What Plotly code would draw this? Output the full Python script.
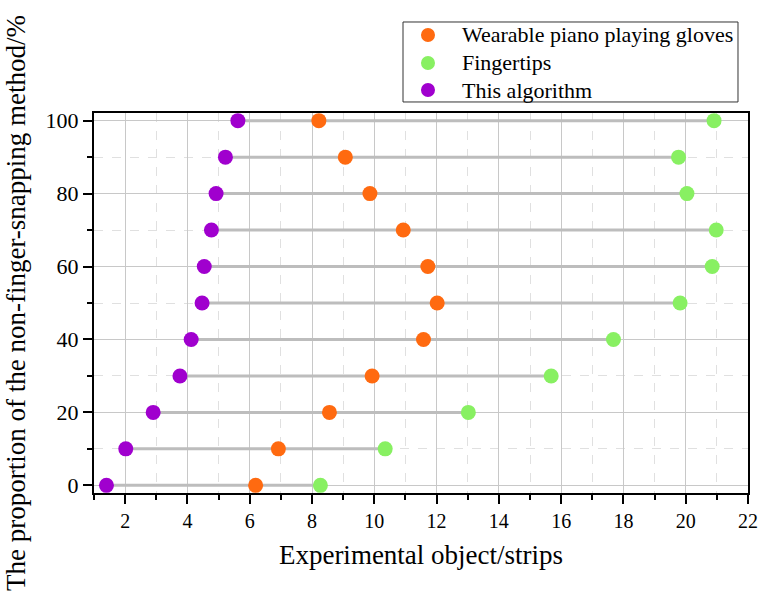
import plotly.graph_objects as go

# Proportion of non-finger-snapping method (%) per row
proportion = [0, 10, 20, 30, 40, 50, 60, 70, 80, 90, 100]

# Experimental object/strips for each method
gloves = [6.19, 6.92, 8.56, 9.93, 11.58, 12.02, 11.72, 10.93, 9.86, 9.07, 8.22]
fingertips = [8.27, 10.35, 13.02, 15.68, 17.68, 19.82, 20.85, 20.98, 20.04, 19.77, 20.91]
algorithm = [1.40, 2.02, 2.90, 3.76, 4.12, 4.47, 4.54, 4.77, 4.92, 5.22, 5.62]

series_names = ["Wearable piano playing gloves", "Fingertips", "This algorithm"]

x_ticks = [2, 4, 6, 8, 10, 12, 14, 16, 18, 20, 22]
y_ticks = [0, 20, 40, 60, 80, 100]

FONT = "Liberation Serif, Times New Roman, serif"
ORANGE = "#FF6A10"
GREEN = "#88F062"
PURPLE = "#A000CE"
colors = [ORANGE, GREEN, PURPLE]

# Gray connector spanning each row from the smallest to the largest value
cx, cy = [], []
for y, a, b, c in zip(proportion, gloves, fingertips, algorithm):
    cx += [min(a, b, c), max(a, b, c), None]
    cy += [y, y, None]

fig = go.Figure()
fig.add_trace(go.Scatter(
    x=cx, y=cy, mode="lines",
    line=dict(color="#BDBDBD", width=3),
    showlegend=False, hoverinfo="skip",
))

for name, xs, col in zip(series_names, [gloves, fingertips, algorithm], colors):
    fig.add_trace(go.Scatter(
        x=xs, y=proportion, mode="markers", name=name,
        marker=dict(color=col, size=15, line=dict(width=0)),
        cliponaxis=False, showlegend=False,
    ))

# Boxed key above the plot area (paper coordinates)
key_x0, key_x1 = 0.4725, 0.9847
key_y0, key_y1 = 1.029, 1.2395
key_rows = [1.2053, 1.1316, 1.0605]
key_marker_x = 0.5107
key_text_x = 0.5596

shapes = [dict(type="rect", xref="paper", yref="paper",
               x0=key_x0, x1=key_x1, y0=key_y0, y1=key_y1,
               line=dict(color="#333333", width=1), fillcolor="white",
               layer="above")]
annotations = []
for name, col, ry in zip(series_names, colors, key_rows):
    shapes.append(dict(type="circle", xref="paper", yref="paper",
                       xsizemode="pixel", ysizemode="pixel",
                       xanchor=key_marker_x, yanchor=ry,
                       x0=-7, x1=7, y0=-7, y1=7,
                       fillcolor=col, line=dict(width=0), layer="above"))
    annotations.append(dict(xref="paper", yref="paper", x=key_text_x, y=ry,
                            xanchor="left", yanchor="middle", showarrow=False,
                            text=name,
                            font=dict(family=FONT, size=22, color="black")))

axis_common = dict(
    showline=True, linecolor="black", linewidth=2, mirror=True,
    ticks="outside", ticklen=9, tickwidth=2, tickcolor="black",
    showgrid=True, gridcolor="#C8C8C8", gridwidth=1,
    zeroline=False, automargin=False,
)

fig.update_layout(
    width=760, height=592,
    margin=dict(l=94, r=12, t=113, b=99),
    paper_bgcolor="white", plot_bgcolor="white",
    font=dict(family=FONT, color="black"),
    showlegend=False,
    shapes=shapes,
    annotations=annotations,
    xaxis=dict(
        **axis_common,
        range=[1, 22], tickvals=x_ticks,
        tickfont=dict(family=FONT, size=20, color="black"),
        minor=dict(dtick=1, tick0=1, ticks="outside", ticklen=5, tickwidth=2,
                   tickcolor="black", showgrid=True, gridcolor="#E0E0E0",
                   griddash="dash", gridwidth=1),
        title=dict(text="Experimental object/strips",
                   font=dict(family=FONT, size=27, color="black"), standoff=14),
    ),
    yaxis=dict(
        **axis_common,
        range=[-2.1, 102.1], tickvals=y_ticks,
        tickfont=dict(family=FONT, size=22, color="black"),
        minor=dict(dtick=10, tick0=0, ticks="outside", ticklen=5, tickwidth=2,
                   tickcolor="black", showgrid=True, gridcolor="#E0E0E0",
                   griddash="dash", gridwidth=1),
        title=dict(text="The proportion of the non-finger-snapping method/%",
                   font=dict(family=FONT, size=27, color="black"), standoff=12),
    ),
)

fig.write_html("out.html")
